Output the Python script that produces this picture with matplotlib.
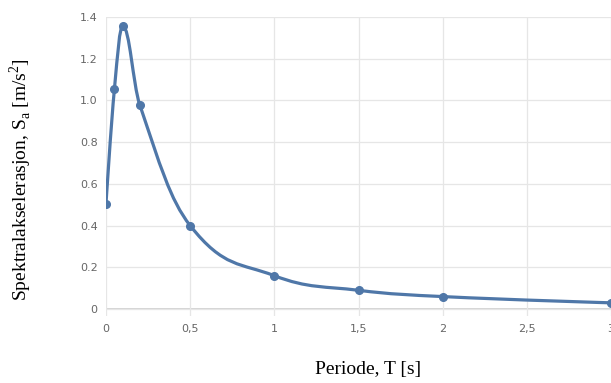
import numpy as np
import matplotlib.pyplot as plt
from matplotlib.path import Path
from matplotlib.patches import PathPatch

# spectral acceleration
periods = [0.0, 0.05, 0.1, 0.2, 0.5, 1.0, 1.5, 2.0, 3.0]
accel = [0.505, 1.055, 1.355, 0.98, 0.40, 0.16, 0.09, 0.06, 0.03]

x_ticks = [0, 0.5, 1, 1.5, 2, 2.5, 3]
x_labels = ['0', '0,5', '1', '1,5', '2', '2,5', '3']
y_ticks = [0, 0.2, 0.4, 0.6, 0.8, 1.0, 1.2, 1.4]
y_labels = ['0', '0.2', '0.4', '0.6', '0.8', '1.0', '1.2', '1.4']

LINE = '#4f77a8'


def spline_path(xs, ys, smoothing=1.5):
    # bezier control points, same rule as a highcharts "spline" series
    n = len(xs)
    left = [(xs[i], ys[i]) for i in range(n)]
    right = [(xs[i], ys[i]) for i in range(n)]
    d = smoothing + 1
    for i in range(1, n - 1):
        px, py = xs[i], ys[i]
        lx, ly = xs[i - 1], ys[i - 1]
        nx, ny = xs[i + 1], ys[i + 1]
        lcx = (smoothing * px + lx) / d
        lcy = (smoothing * py + ly) / d
        rcx = (smoothing * px + nx) / d
        rcy = (smoothing * py + ny) / d
        if rcx != lcx:
            corr = (rcy - lcy) * (rcx - px) / (rcx - lcx) + py - rcy
            lcy += corr
            rcy += corr
        if lcy > ly and lcy > py:
            lcy = max(ly, py)
            rcy = 2 * py - lcy
        elif lcy < ly and lcy < py:
            lcy = min(ly, py)
            rcy = 2 * py - lcy
        if rcy > ny and rcy > py:
            rcy = max(ny, py)
            lcy = 2 * py - rcy
        elif rcy < ny and rcy < py:
            rcy = min(ny, py)
            lcy = 2 * py - rcy
        left[i] = (lcx, lcy)
        right[i] = (rcx, rcy)
    verts = [(xs[0], ys[0])]
    codes = [Path.MOVETO]
    for i in range(1, n):
        verts += [right[i - 1], left[i], (xs[i], ys[i])]
        codes += [Path.CURVE4] * 3
    return Path(verts, codes)


fig = plt.figure(figsize=(6.11, 3.83), dpi=100)
ax = fig.add_axes([0.1735, 0.175, 0.8265, 0.781])

ax.set_xlim(0, 3)
ax.set_ylim(-0.033, 1.4)

ax.add_patch(PathPatch(spline_path(periods, accel), facecolor='none',
                       edgecolor=LINE, lw=2.3, capstyle='round', zorder=3))
ax.plot(periods, accel, 'o', color=LINE, ms=5.5, zorder=4)

ax.set_xticks(x_ticks)
ax.set_xticklabels(x_labels)
ax.set_yticks(y_ticks)
ax.set_yticklabels(y_labels)
ax.tick_params(length=0, labelsize=8, labelcolor='#666666', pad=6)
ax.grid(color='#e6e6e6', lw=0.9)
ax.axhline(0, color='#cccccc', lw=1.2, zorder=1)
ax.axvline(0, color='#c0c0c0', lw=1.2, zorder=1)
for s in ax.spines.values():
    s.set_visible(False)

ax.set_xlabel('Periode, T [s]', family='Liberation Serif', fontsize=14)
ax.xaxis.set_label_coords(0.518, -0.152)
ax.set_ylabel('Spektralakselerasjon, S$_\\mathregular{a}$ [m/s$^\\mathregular{2}$]',
              family='Liberation Serif', fontsize=14)
ax.yaxis.set_label_coords(-0.142, 0.455)

fig.savefig('out.png', dpi=100)
